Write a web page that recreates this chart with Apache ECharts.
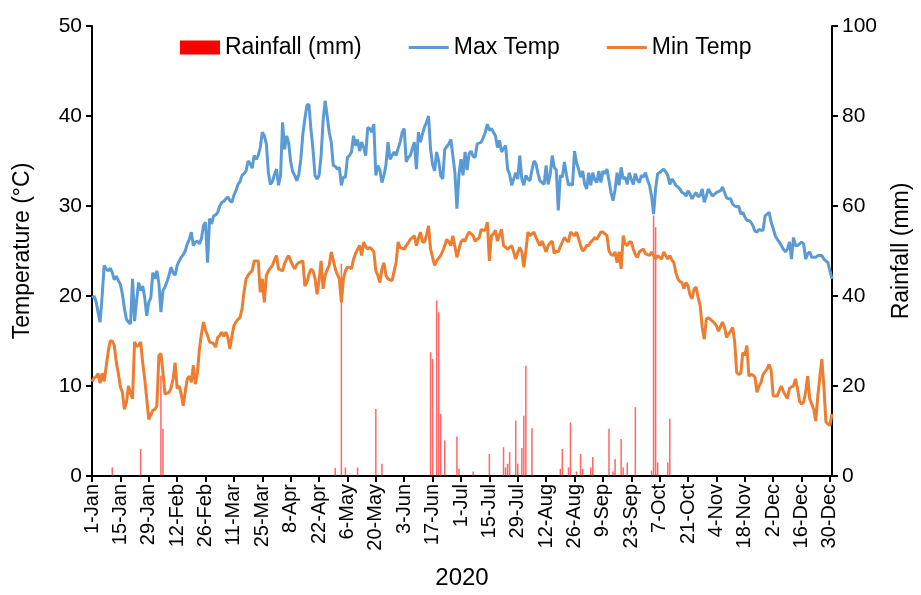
<!DOCTYPE html>
<html lang="en">
<head>
    <meta charset="UTF-8">
    <title>Rainfall and temperature 2020</title>
    <script src="https://cdn.jsdelivr.net/npm/echarts@6.0.0/dist/echarts.min.js"></script>
    <style>
        body{ margin:0; background:#fff; }
        #main{ width:921px; height:595px; }
    </style>
</head>
<body>
<div id="main"></div>
<script>
    // daily max temperature, 1-Jan .. 31-Dec 2020
    var maxTemp = [
        19.8, 20.0, 19.4, 18.2, 17.1, 20.0, 23.4, 23.0, 22.8, 23.1,
        22.6, 21.8, 22.2, 21.7, 21.3, 20.2, 18.6, 17.4, 17.1, 16.9,
        21.9, 17.2, 19.5, 21.5, 20.6, 21.1, 19.8, 17.8, 19.3, 19.8,
        22.6, 21.9, 22.8, 21.4, 18.2, 20.6, 21.0, 21.6, 22.3, 23.2,
        22.6, 22.3, 23.4, 23.9, 24.3, 24.6, 25.0, 25.8, 26.3, 27.1,
        25.6, 26.0, 26.1, 25.8, 26.4, 27.8, 28.2, 23.7, 28.6, 28.0,
        28.9, 29.0, 29.3, 30.0, 30.4, 30.5, 30.8, 31.0, 30.6, 30.4,
        31.2, 31.7, 32.4, 32.7, 33.4, 33.6, 33.9, 35.0, 34.7, 34.2,
        35.6, 35.2, 35.6, 36.5, 38.2, 37.8, 36.9, 33.7, 32.4, 32.7,
        33.5, 34.1, 32.3, 33.4, 39.3, 36.3, 37.8, 37.0, 34.9, 33.8,
        33.4, 32.8, 33.5, 35.2, 38.0, 39.7, 41.2, 41.3, 38.5, 36.3,
        33.4, 33.0, 33.4, 35.6, 39.5, 41.7, 40.0, 38.2, 37.1, 34.5,
        34.4, 34.1, 34.3, 32.3, 33.2, 33.2, 35.4, 35.6, 36.0, 37.8,
        36.7, 37.4, 36.1, 37.1, 36.5, 35.6, 38.7, 38.6, 38.2, 39.1,
        33.4, 34.5, 34.0, 32.6, 33.4, 34.6, 37.1, 35.2, 35.6, 36.0,
        35.6, 36.4, 37.1, 38.2, 38.6, 34.9, 35.4, 35.6, 36.4, 37.1,
        34.1, 38.2, 37.1, 38.0, 38.8, 39.3, 40.0, 36.3, 34.6, 33.9,
        36.0, 35.0, 33.4, 33.0, 36.3, 36.6, 36.9, 37.4, 35.6, 33.7,
        29.7, 33.5, 35.2, 33.4, 36.0, 34.0, 35.8, 36.1, 35.5, 35.4,
        36.9, 37.0, 37.1, 37.6, 38.2, 39.1, 38.4, 38.6, 38.2, 37.8,
        36.5, 37.3, 36.0, 36.4, 36.7, 34.1, 33.5, 32.3, 33.0, 33.7,
        33.0, 35.6, 33.0, 32.3, 33.4, 33.0, 32.8, 34.0, 35.0, 34.7,
        33.6, 32.8, 32.6, 32.4, 34.5, 32.4, 33.5, 35.6, 34.3, 34.0,
        29.5, 33.4, 33.2, 34.9, 33.5, 32.3, 32.5, 32.3, 36.1, 34.8,
        34.1, 33.2, 33.9, 32.4, 31.9, 33.7, 32.3, 33.7, 32.9, 32.6,
        33.9, 32.6, 33.9, 33.6, 34.1, 32.8, 31.5, 30.6, 31.8, 33.7,
        32.3, 34.3, 33.0, 33.2, 32.4, 33.7, 33.0, 32.4, 33.6, 32.9,
        32.6, 33.4, 33.2, 33.7, 32.9, 32.3, 31.1, 29.1, 31.9, 33.6,
        33.7, 33.9, 34.1, 33.8, 33.4, 32.4, 33.0, 32.7, 32.3, 32.1,
        31.9, 31.5, 31.4, 31.1, 31.7, 31.3, 30.8, 31.2, 31.5, 31.0,
        31.2, 31.9, 30.4, 31.1, 31.9, 31.5, 31.1, 31.3, 31.5, 31.6,
        31.7, 32.1, 31.5, 30.9, 30.8, 30.8, 30.2, 30.0, 29.9, 30.0,
        29.1, 29.3, 28.8, 28.4, 28.4, 28.2, 27.8, 27.2, 27.1, 27.4,
        27.3, 27.3, 28.9, 29.1, 29.3, 28.2, 27.5, 26.7, 26.3, 26.0,
        25.6, 25.2, 24.9, 25.2, 26.0, 24.1, 26.5, 25.6, 25.6, 25.8,
        26.0, 25.8, 24.1, 24.7, 24.9, 24.3, 24.3, 24.3, 24.5, 24.5,
        24.5, 24.1, 23.9, 23.7, 22.8, 21.9
    ];

    // daily min temperature
    var minTemp = [
        10.5, 10.9, 11.0, 11.4, 10.3, 11.4, 10.5, 12.2, 13.8, 15.0,
        15.0, 14.5, 12.6, 11.4, 9.9, 9.3, 7.4, 8.2, 10.0, 9.2,
        8.6, 14.9, 14.4, 14.5, 14.9, 12.6, 10.8, 8.6, 6.3, 6.8,
        7.3, 7.4, 7.8, 13.4, 13.6, 11.5, 9.1, 9.2, 9.3, 9.8,
        10.8, 12.6, 9.7, 10.0, 9.1, 7.8, 9.4, 10.8, 11.1, 10.4,
        12.3, 10.2, 11.5, 14.1, 15.8, 17.1, 16.2, 15.6, 14.9, 14.8,
        14.7, 14.3, 15.4, 15.6, 16.0, 15.5, 16.0, 15.4, 14.1, 15.5,
        16.7, 17.1, 17.4, 17.6, 18.6, 20.5, 21.9, 22.3, 22.6, 22.8,
        23.9, 23.9, 23.9, 20.4, 21.9, 19.3, 22.3, 22.8, 23.1, 23.4,
        24.0, 24.5, 23.0, 22.9, 22.8, 23.6, 24.1, 24.5, 23.9, 23.4,
        23.0, 23.5, 23.7, 23.8, 23.9, 21.1, 21.5, 22.4, 23.0, 22.8,
        22.0, 20.2, 21.7, 23.9, 20.8, 22.3, 22.9, 23.4, 24.9, 24.0,
        23.0, 22.4, 21.9, 19.3, 21.9, 22.8, 23.2, 23.2, 23.0, 24.1,
        24.7, 25.2, 25.6, 24.5, 26.0, 25.5, 25.2, 25.4, 25.2, 24.9,
        22.8, 22.3, 21.5, 23.0, 23.7, 22.3, 21.9, 21.8, 21.7, 22.7,
        23.7, 26.0, 25.4, 25.3, 25.2, 25.6, 25.9, 26.3, 26.5, 26.7,
        25.6, 26.4, 27.1, 26.0, 26.0, 26.8, 27.8, 25.2, 24.3, 23.4,
        23.9, 24.2, 24.5, 25.0, 25.6, 26.3, 26.0, 25.6, 26.7, 25.5,
        24.3, 25.2, 26.0, 26.3, 26.1, 26.7, 27.1, 26.9, 26.7, 26.1,
        26.3, 26.5, 27.4, 27.3, 27.3, 28.2, 23.9, 26.7, 26.9, 27.3,
        26.1, 26.8, 27.4, 25.6, 25.4, 25.2, 25.4, 25.6, 24.9, 24.1,
        24.8, 25.4, 24.9, 23.2, 25.0, 27.1, 26.7, 26.9, 27.1, 26.5,
        26.0, 25.6, 26.1, 25.5, 24.9, 25.6, 25.9, 26.1, 24.7, 25.0,
        24.9, 25.5, 26.0, 26.5, 26.2, 26.0, 27.1, 26.9, 26.7, 27.1,
        26.4, 25.6, 25.0, 25.2, 25.6, 25.6, 26.0, 26.2, 26.5, 26.3,
        26.7, 27.1, 27.1, 26.9, 26.7, 25.0, 24.6, 24.5, 24.9, 23.7,
        24.9, 23.0, 26.7, 25.8, 25.6, 26.0, 26.0, 25.2, 24.6, 24.3,
        24.9, 25.1, 25.2, 24.7, 24.6, 24.5, 24.9, 24.5, 24.1, 24.5,
        24.3, 24.1, 24.9, 24.5, 24.1, 24.5, 24.0, 23.7, 22.6, 21.9,
        21.6, 21.5, 20.8, 21.5, 21.1, 20.1, 19.7, 20.8, 21.0, 19.8,
        18.9, 16.5, 15.2, 17.4, 17.6, 17.4, 17.2, 17.0, 16.7, 16.1,
        16.6, 17.1, 16.5, 15.4, 15.8, 16.1, 16.5, 14.9, 11.5, 11.3,
        11.4, 13.7, 13.4, 14.5, 11.1, 11.3, 11.2, 11.0, 9.3, 10.0,
        10.4, 11.3, 11.6, 11.9, 12.4, 11.7, 8.9, 8.9, 8.9, 9.5,
        10.0, 9.4, 9.0, 8.6, 9.7, 9.9, 10.0, 10.8, 9.7, 8.3,
        8.0, 8.2, 9.3, 11.1, 8.6, 8.0, 7.4, 6.1, 8.9, 11.0,
        13.0, 10.0, 6.0, 5.8, 5.6, 6.9
    ];

    // rain days (day of year, 0 = 1-Jan) and amounts in mm
    var rainDay = [10, 24, 34, 35, 120, 123, 125, 131, 140, 143,
        167, 168, 170, 171, 172, 174, 180, 181, 188, 196,
        203, 204, 205, 206, 209, 210, 212, 213, 214, 217,
        231, 232, 235, 236, 239, 241, 242, 246, 247, 255,
        257, 258, 261, 262, 264, 268, 276, 277, 278, 279,
        284, 285];
    var rainMm = [1.9, 6.0, 22.3, 10.5, 1.8, 47.2, 1.9, 1.9, 14.9, 2.7,
        27.5, 26.0, 39.0, 36.4, 13.8, 7.9, 8.8, 1.6, 1.0, 4.9,
        6.4, 1.9, 2.7, 5.3, 12.3, 2.7, 6.2, 13.4, 24.5, 10.6,
        1.6, 6.0, 1.9, 11.9, 1.0, 4.9, 1.6, 1.9, 4.2, 10.5,
        1.0, 3.8, 8.2, 1.9, 3.0, 15.3, 1.2, 57.9, 55.3, 3.0,
        3.0, 12.7];

    var monthNames = ['Jan','Feb','Mar','Apr','May','Jun','Jul','Aug','Sep','Oct','Nov','Dec'];
    var days = [];
    for (var i = 0; i < maxTemp.length; i++) {
        var d = new Date(2020, 0, 1 + i);
        days.push(d.getDate() + '-' + monthNames[d.getMonth()]);
    }
    var rainData = rainDay.map(function (dd, k) { return [dd, rainMm[k]]; });

    var font = 'Liberation Sans, Arial, sans-serif';
    var everyTwoWeeks = function (idx) { return idx % 14 === 0; };
    // plain line for the legend, no marker
    var lineIcon = 'path://M0,0 L40,0 L40,3 L0,3 Z';

    var chart = echarts.init(document.getElementById('main'));
    var option = {
        animation: false,
        textStyle: { fontFamily: font, color: '#000' },
        grid: { left: 92, right: 84, top: 26, bottom: 117, containLabel: false },
        legend: {
            left: 175, top: 31,
            itemWidth: 40, itemHeight: 14, itemGap: 47,
            textStyle: { fontSize: 23, color: '#000', fontFamily: font },
            data: [
                { name: 'Rainfall (mm)', icon: 'rect', itemStyle: { color: '#ff0000', opacity: 1 } },
                { name: 'Max Temp', icon: lineIcon, itemStyle: { color: '#5b9bd5' } },
                { name: 'Min Temp', icon: lineIcon, itemStyle: { color: '#ed7d31' } }
            ]
        },
        xAxis: {
            type: 'category',
            data: days,
            boundaryGap: false,
            name: '2020',
            nameLocation: 'middle',
            nameGap: 90,
            nameTextStyle: { fontSize: 24, color: '#000' },
            axisLine: { lineStyle: { color: '#000', width: 2 } },
            axisTick: { interval: everyTwoWeeks, length: 6, lineStyle: { color: '#000', width: 2 } },
            axisLabel: { interval: everyTwoWeeks, rotate: 90, fontSize: 20, color: '#000', margin: 8 },
            splitLine: { show: false }
        },
        yAxis: [
            {
                type: 'value', min: 0, max: 50, interval: 10,
                name: 'Temperature (°C)', nameLocation: 'middle', nameGap: 58, nameRotate: 90,
                nameTextStyle: { fontSize: 23, color: '#000' },
                axisLine: { show: true, lineStyle: { color: '#000', width: 2 } },
                axisTick: { show: true, length: 6, lineStyle: { color: '#000', width: 2 } },
                axisLabel: { fontSize: 21, color: '#000', margin: 10 },
                splitLine: { show: false }
            },
            {
                type: 'value', min: 0, max: 100, interval: 20, position: 'right',
                name: 'Rainfall (mm)', nameLocation: 'middle', nameGap: 58, nameRotate: 90,
                nameTextStyle: { fontSize: 23, color: '#000' },
                axisLine: { show: true, lineStyle: { color: '#000', width: 2 } },
                axisTick: { show: true, length: 6, lineStyle: { color: '#000', width: 2 } },
                axisLabel: { fontSize: 21, color: '#000', margin: 10 },
                splitLine: { show: false }
            }
        ],
        series: [
            {
                name: 'Rainfall (mm)',
                type: 'bar',
                yAxisIndex: 1,
                barWidth: 1.5,
                itemStyle: { color: 'rgba(255,0,0,0.6)' },
                data: rainData,
                z: 1
            },
            {
                name: 'Max Temp',
                type: 'line',
                data: maxTemp,
                symbol: 'none',
                lineStyle: { color: '#5b9bd5', width: 3 },
                itemStyle: { color: '#5b9bd5' },
                z: 3
            },
            {
                name: 'Min Temp',
                type: 'line',
                data: minTemp,
                symbol: 'none',
                lineStyle: { color: '#ed7d31', width: 3 },
                itemStyle: { color: '#ed7d31' },
                z: 3
            }
        ]
    };
    chart.setOption(option);
</script>
</body>
</html>
